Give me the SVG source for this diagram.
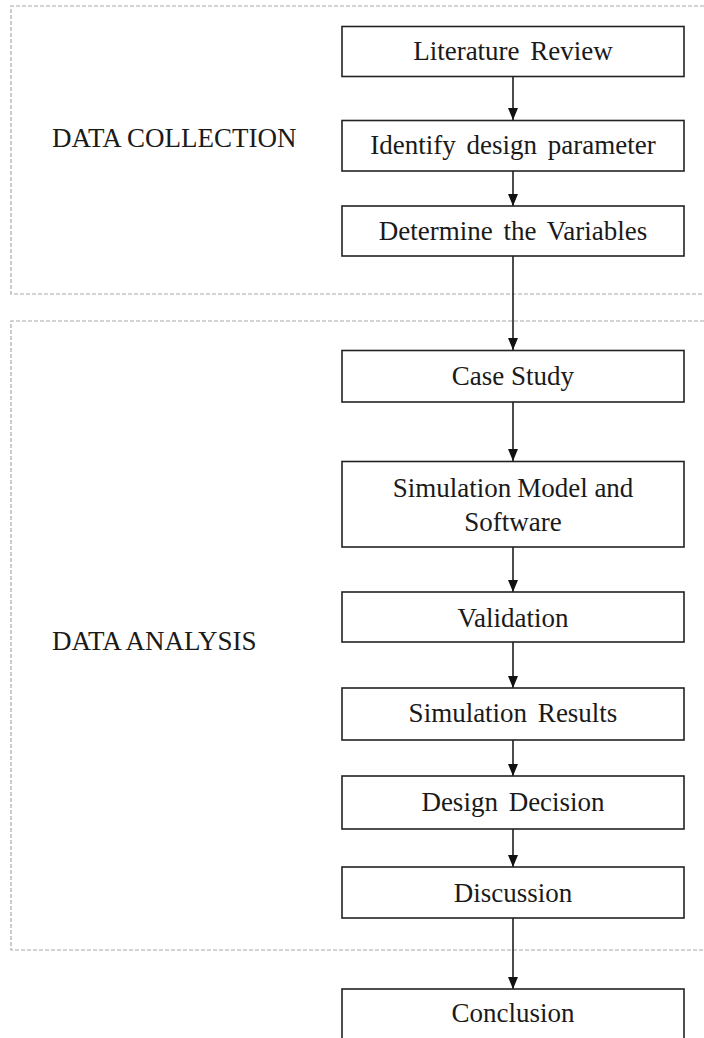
<svg xmlns="http://www.w3.org/2000/svg" width="704" height="1038" viewBox="0 0 704 1038">
<style>
.frame{fill:none;stroke:#a8a8a8;stroke-width:1.2;stroke-dasharray:4 2}
.box{fill:#fff;stroke:#222;stroke-width:1.6}
.t{font-family:"Liberation Serif","Times New Roman",serif;font-size:27px;fill:#1a1a1a;text-anchor:middle}
.ws{word-spacing:4px}
.lbl{font-family:"Liberation Serif","Times New Roman",serif;font-size:27px;fill:#1a1a1a}
.conn{stroke:#111;stroke-width:1.5;fill:none;marker-end:url(#ah)}
</style>
<defs>
<marker id="ah" markerWidth="12" markerHeight="10" refX="12" refY="5" orient="auto" markerUnits="userSpaceOnUse" viewBox="0 0 12 10">
<path d="M0,0 L12,5 L0,10 Z" fill="#111"/>
</marker>
</defs>
<rect width="704" height="1038" fill="#fff"/>
<g id="group-data-collection">
<path class="frame" d="M704,6 H11 V294 H704"/>
<text class="lbl" x="52" y="147">DATA COLLECTION</text>
</g>
<g id="group-data-analysis">
<path class="frame" d="M704,321 H11 V950 H704"/>
<text class="lbl" x="52" y="650">DATA ANALYSIS</text>
</g>
<g id="connectors">
<line class="conn" x1="513" y1="76" x2="513" y2="120"/>
<line class="conn" x1="513" y1="171" x2="513" y2="206"/>
<line class="conn" x1="513" y1="256" x2="513" y2="350"/>
<line class="conn" x1="513" y1="402" x2="513" y2="461"/>
<line class="conn" x1="513" y1="547" x2="513" y2="592"/>
<line class="conn" x1="513" y1="642" x2="513" y2="688"/>
<line class="conn" x1="513" y1="740" x2="513" y2="776"/>
<line class="conn" x1="513" y1="829" x2="513" y2="867"/>
<line class="conn" x1="513" y1="918" x2="513" y2="989"/>
</g>
<g id="n-literature"><rect class="box" x="342" y="26.5" width="342" height="50"/><text class="t ws" x="513" y="59.5">Literature Review</text></g>
<g id="n-identify"><rect class="box" x="342" y="120.5" width="342" height="50.5"/><text class="t ws" x="513" y="154">Identify design parameter</text></g>
<g id="n-determine"><rect class="box" x="342" y="206" width="342" height="50"/><text class="t ws" x="513" y="240">Determine the Variables</text></g>
<g id="n-case"><rect class="box" x="342" y="350.5" width="342" height="51.5"/><text class="t" x="513" y="385">Case Study</text></g>
<g id="n-simmodel"><rect class="box" x="342" y="461.5" width="342" height="85.5"/><text class="t" x="513" y="496.5">Simulation<tspan dx="6">Model and</tspan></text><text class="t" x="513" y="530.5">Software</text></g>
<g id="n-validation"><rect class="box" x="342" y="592" width="342" height="50"/><text class="t" x="513" y="626.5">Validation</text></g>
<g id="n-simresults"><rect class="box" x="342" y="688" width="342" height="52"/><text class="t ws" x="513" y="721.5">Simulation Results</text></g>
<g id="n-decision"><rect class="box" x="342" y="776" width="342" height="53"/><text class="t ws" x="513" y="810.5">Design Decision</text></g>
<g id="n-discussion"><rect class="box" x="342" y="867" width="342" height="51"/><text class="t" x="513" y="901.5">Discussion</text></g>
<g id="n-conclusion"><rect class="box" x="342" y="989" width="342" height="60"/><text class="t" x="513" y="1022">Conclusion</text></g>
</svg>
